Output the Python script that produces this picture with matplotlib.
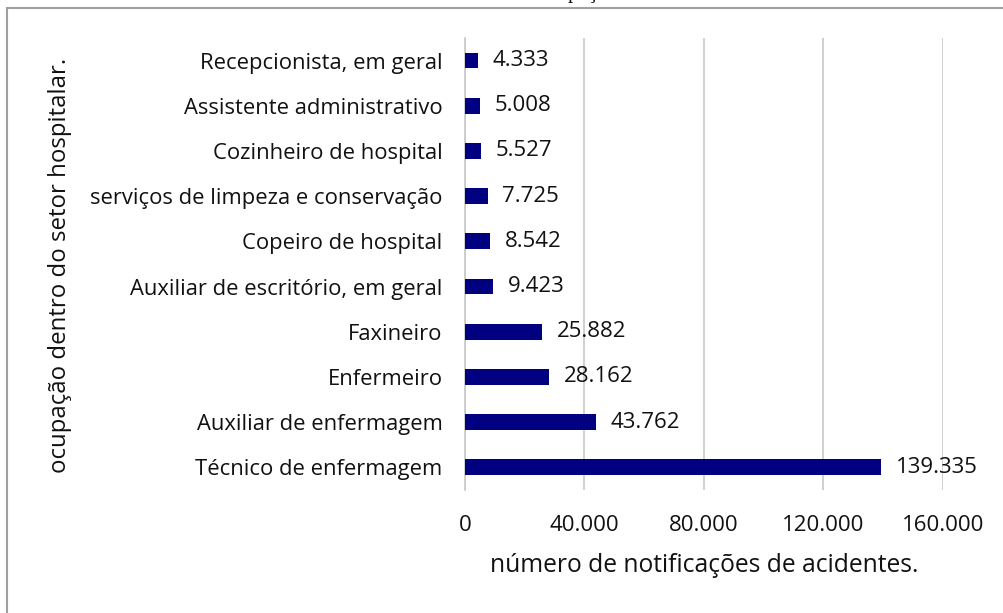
import matplotlib
matplotlib.use("Agg")
import matplotlib.pyplot as plt
from matplotlib.patches import Rectangle

# data, bottom to top as drawn
ocupacoes = ["Técnico de enfermagem", "Auxiliar de enfermagem", "Enfermeiro",
             "Faxineiro", "Auxiliar de escritório, em geral", "Copeiro de hospital",
             "serviços de limpeza e conservação", "Cozinheiro de hospital",
             "Assistente administrativo", "Recepcionista, em geral"]
notificacoes = [139335, 43762, 28162, 25882, 9423, 8542, 7725, 5527, 5008, 4333]
x_ticks = [0, 40000, 80000, 120000, 160000]


def fmt(v):
    # brazilian thousands separator
    return f"{v:,}".replace(",", ".")


plt.rcParams['font.family'] = ['Open Sans', 'DejaVu Sans']

fig = plt.figure(figsize=(10.04, 6.13), dpi=100)
ax = fig.add_axes([0.4631, 0.2007, 0.4761, 0.7374])

pos = list(range(len(ocupacoes)))
ax.barh(pos, notificacoes, height=0.35, color="#000080", zorder=3)
for p, v in zip(pos, notificacoes):
    ax.text(v + 4800, p, fmt(v), va="center", ha="left", fontsize=16, color="#111111")

ax.set_ylim(-0.5, len(ocupacoes) - 0.5)
ax.set_xlim(0, 160000)
ax.set_yticks(pos)
ax.set_yticklabels(ocupacoes, fontsize=15.8, color="#111111")
ax.set_xticks(x_ticks)
ax.set_xticklabels([fmt(t) for t in x_ticks], fontsize=16, color="#111111")
ax.tick_params(axis="y", length=0, pad=16)
ax.tick_params(axis="x", length=0, pad=18)
ax.grid(axis="x", color="#c8c8c8", linewidth=1.2, zorder=0)

for s in ["top", "right", "bottom"]:
    ax.spines[s].set_visible(False)
ax.spines["left"].set_color("#c8c8c8")
ax.spines["left"].set_linewidth(1.2)

ax.set_xlabel("número de notificações de acidentes.", fontsize=17.7, labelpad=12, color="#111111")
fig.text(0.06, 0.567, "ocupação dentro do setor hospitalar.", rotation=90,
         ha="center", va="center", fontsize=17.3, color="#111111")

# title cut off by the crop, only the descenders show
fig.text(0.575, 1.003, "ocupação", ha="center", va="baseline", fontsize=15,
         family="Liberation Serif", color="#111111")

# outer frame of the chart area (partly cropped)
fig.patches.append(Rectangle((0.007, -0.1), 1.1, 1.087,
                             transform=fig.transFigure, fill=False,
                             edgecolor="#a0a0a0", linewidth=1.5))

fig.savefig("out.png", dpi=100)
